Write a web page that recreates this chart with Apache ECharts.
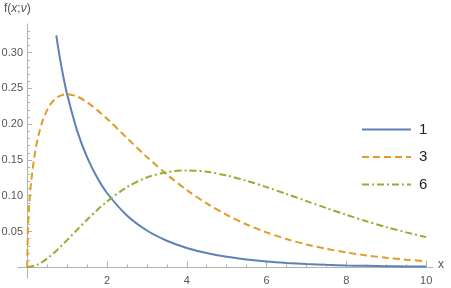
<!DOCTYPE html>
<html><head><meta charset="utf-8">
<script src="https://cdn.jsdelivr.net/npm/echarts@6/dist/echarts.min.js"></script>
<style>html,body{margin:0;padding:0;background:#fff}#c{width:451px;height:288px}</style>
</head><body><div id="c"></div>
<script>
// Data
const seriesNames = ['1', '3', '6'];
const x1 = [0.73,0.8,0.9,1,1.25,1.5,1.75,2,2.5,3,3.5,4,4.5,5,5.5,6,6.5,7,7.5,8,8.5,9,9.5,10];
const y1 = [0.3241,0.2990,0.2681,0.2420,0.1910,0.1539,0.1257,0.1038,0.0723,0.0514,0.0371,0.0270,0.0198,0.0146,0.0109,0.0081,0.0061,0.0046,0.0034,0.0026,0.0020,0.0015,0.0011,0.0009];
const x3 = [0,0.02,0.05,0.1,0.2,0.3,0.4,0.5,0.6,0.75,1,1.25,1.5,1.75,2,2.5,3,3.5,4,4.5,5,5.5,6,6.5,7,7.5,8,8.5,9,9.5,10];
const y3 = [0,0.0559,0.0870,0.1200,0.1614,0.1881,0.2066,0.2197,0.2289,0.2375,0.2420,0.2387,0.2308,0.2200,0.2076,0.1807,0.1542,0.1297,0.1080,0.0892,0.0732,0.0598,0.0487,0.0394,0.0319,0.0257,0.0207,0.0166,0.0133,0.0106,0.0085];
const x6 = [0,0.25,0.5,0.75,1,1.25,1.5,1.75,2,2.5,3,3.5,4,4.5,5,5.5,6,6.5,7,7.5,8,8.5,9,9.5,10];
const y6 = [0,0.0034,0.0122,0.0242,0.0379,0.0523,0.0664,0.0798,0.0920,0.1119,0.1255,0.1330,0.1353,0.1334,0.1283,0.1209,0.1120,0.1024,0.0925,0.0827,0.0733,0.0644,0.0562,0.0488,0.0421];
const xTickLabels = [2,4,6,8,10];
const xMinorTicks = [0.5,1,1.5,2.5,3,3.5,4.5,5,5.5,6.5,7,7.5,8.5,9,9.5];
const yTickLabels = [0.05,0.10,0.15,0.20,0.25,0.30];
const yMinorTicks = [0.01,0.02,0.03,0.04,0.06,0.07,0.08,0.09,0.11,0.12,0.13,0.14,0.16,0.17,0.18,0.19,0.21,0.22,0.23,0.24,0.26,0.27,0.28,0.29,0.31,0.32,0.33];

const zip = (xs, ys) => xs.map((x, i) => [x, ys[i]]);
const axisColor = '#b3b3b3';
const labelColor = '#555';
const font = 'Liberation Sans';
const X_MIN = -0.23, X_MAX = 10.17, Y_MIN = -0.015, Y_MAX = 0.34;

const chart = echarts.init(document.getElementById('c'), null, {renderer: 'canvas'});
chart.setOption({
  animation: false,
  backgroundColor: '#fff',
  textStyle: {fontFamily: font},
  grid: {left: 18, right: 18, top: 24, bottom: 10, containLabel: false, outerBoundsMode: 'none'},
  legend: {
    orient: 'vertical', left: 356, top: 117, itemWidth: 49, itemHeight: 14, itemGap: 12.5,
    itemStyle: {opacity: 0},
    textStyle: {fontSize: 15, color: '#222', fontFamily: font, padding: [0, 0, 0, 3]},
    data: seriesNames
  },
  xAxis: [
    {type: 'value', min: X_MIN, max: X_MAX, position: 'bottom',
     axisLine: {onZero: true, onZeroAxisIndex: 0, lineStyle: {color: axisColor, width: 1}},
     axisTick: {show: true, inside: true, length: 6, customValues: xTickLabels, lineStyle: {color: axisColor}},
     axisLabel: {customValues: xTickLabels, color: labelColor, fontSize: 11, margin: -3, fontFamily: font},
     splitLine: {show: false}},
    {type: 'value', min: X_MIN, max: X_MAX, position: 'bottom',
     axisLine: {show: false, onZero: true, onZeroAxisIndex: 0},
     axisTick: {show: true, inside: true, length: 3, customValues: xMinorTicks, lineStyle: {color: axisColor}},
     axisLabel: {show: false}, splitLine: {show: false}}
  ],
  yAxis: [
    {type: 'value', min: Y_MIN, max: Y_MAX, position: 'left',
     axisLine: {show: true, onZero: true, onZeroAxisIndex: 0, lineStyle: {color: axisColor, width: 1}},
     axisTick: {show: true, inside: true, length: 5, customValues: yTickLabels, lineStyle: {color: axisColor}},
     axisLabel: {customValues: yTickLabels, color: labelColor, fontSize: 11, margin: -5, fontFamily: font,
                 formatter: v => v.toFixed(2)},
     splitLine: {show: false}},
    {type: 'value', min: Y_MIN, max: Y_MAX, position: 'left',
     axisLine: {show: false, onZero: true, onZeroAxisIndex: 0},
     axisTick: {show: true, inside: true, length: 3, customValues: yMinorTicks, lineStyle: {color: axisColor}},
     axisLabel: {show: false}, splitLine: {show: false}}
  ],
  graphic: [
    {type: 'text', left: 4, top: 3, style: {
      text: '{n|f(}{i|x}{n|;}{i|ν}{n|)}', fill: labelColor,
      rich: {n: {fontSize: 12, fontFamily: font, fill: labelColor}, i: {fontSize: 12, fontFamily: font, fontStyle: 'italic', fill: labelColor}}
    }},
    {type: 'text', left: 438, top: 259, style: {text: 'x', fontSize: 12, fontFamily: font, fill: labelColor}}
  ],
  series: [
    {name: seriesNames[0], type: 'line', xAxisIndex: 0, yAxisIndex: 0, data: zip(x1, y1), smooth: 0.3, symbol: 'none',
     lineStyle: {color: '#5E81B5', width: 2}, itemStyle: {color: '#5E81B5'}},
    {name: seriesNames[1], type: 'line', xAxisIndex: 0, yAxisIndex: 0, data: zip(x3, y3), smooth: 0.3, symbol: 'none',
     lineStyle: {color: '#E19C24', width: 2, type: [7, 4]}, itemStyle: {color: '#E19C24'}},
    {name: seriesNames[2], type: 'line', xAxisIndex: 0, yAxisIndex: 0, data: zip(x6, y6), smooth: 0.3, symbol: 'none',
     lineStyle: {color: '#8FB032', width: 2, type: [7, 3, 2, 3]}, itemStyle: {color: '#8FB032'}}
  ]
});
</script></body></html>
